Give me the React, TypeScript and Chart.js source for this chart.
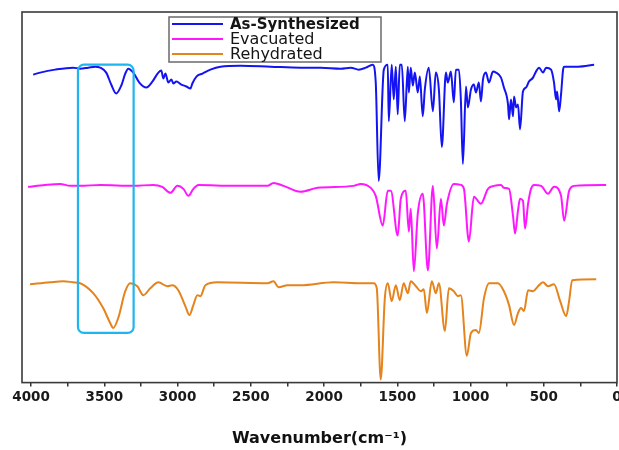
import React, { useEffect, useRef } from 'react';
import { Chart, registerables } from 'chart.js';

Chart.register(...registerables);

const seriesNames = ['As-Synthesized', 'Evacuated', 'Rehydrated'];
const seriesColors = ['#1414F2', '#FF18FF', '#E5831C'];

const asSynthesizedWavenumber = [3986, 3938, 3836, 3713, 3665, 3610, 3562, 3528, 3487, 3453, 3419, 3384, 3357, 3337, 3302, 3261, 3213, 3172, 3131, 3111, 3097, 3083, 3063, 3042, 3029, 3008, 2974, 2940, 2912, 2899, 2871, 2830, 2776, 2707, 2570, 2365, 2160, 2023, 1886, 1818, 1763, 1715, 1668, 1647, 1627, 1592, 1565, 1558, 1538, 1524, 1510, 1497, 1483, 1469, 1449, 1428, 1421, 1408, 1394, 1380, 1360, 1346, 1326, 1312, 1285, 1257, 1237, 1216, 1196, 1168, 1155, 1134, 1114, 1100, 1079, 1066, 1052, 1031, 1018, 997, 977, 963, 943, 929, 915, 895, 874, 847, 826, 792, 772, 744, 737, 724, 710, 703, 689, 676, 662, 642, 621, 601, 573, 553, 532, 505, 484, 450, 430, 416, 409, 395, 382, 368, 361, 265, 156];
const asSynthesizedIntensity = [310, 312, 315, 317, 316, 317, 318, 317, 312, 300, 291, 299, 311, 316, 312, 302, 297, 303, 312, 314, 306, 311, 302, 305, 301, 303, 300, 298, 296, 301, 308, 311, 315, 318, 319, 318, 317, 317, 316, 317, 315, 317, 320, 302, 203, 315, 320, 263, 320, 285, 318, 270, 320, 320, 263, 318, 292, 317, 299, 312, 292, 308, 268, 295, 317, 273, 312, 295, 237, 312, 302, 313, 282, 315, 315, 285, 220, 298, 277, 295, 300, 292, 302, 283, 305, 312, 302, 313, 312, 307, 297, 280, 265, 285, 268, 288, 277, 280, 255, 293, 297, 303, 307, 313, 317, 312, 317, 315, 302, 285, 293, 273, 290, 315, 318, 318, 320];

const evacuatedWavenumber = [4021, 3904, 3802, 3733, 3665, 3528, 3302, 3166, 3104, 3049, 3001, 2960, 2926, 2892, 2858, 2618, 2386, 2345, 2276, 2160, 2044, 1798, 1750, 1681, 1647, 1599, 1565, 1544, 1497, 1476, 1442, 1421, 1408, 1387, 1360, 1326, 1291, 1257, 1230, 1202, 1182, 1161, 1114, 1066, 1045, 1011, 977, 929, 881, 840, 792, 772, 737, 710, 696, 676, 662, 642, 628, 607, 587, 566, 518, 471, 430, 382, 361, 327, 293, 74];
const evacuatedIntensity = [197, 199, 200, 198, 198, 199, 198, 199, 197, 191, 198, 195, 188, 195, 199, 198, 198, 201, 198, 192, 196, 198, 200, 196, 188, 158, 193, 193, 148, 185, 193, 152, 175, 112, 170, 190, 113, 198, 135, 185, 158, 180, 200, 199, 195, 142, 187, 180, 195, 198, 199, 196, 195, 168, 150, 173, 185, 183, 155, 180, 195, 199, 198, 190, 197, 188, 163, 193, 198, 199];

const rehydratedWavenumber = [4007, 3870, 3781, 3713, 3665, 3576, 3508, 3460, 3439, 3405, 3357, 3323, 3275, 3234, 3186, 3131, 3070, 3036, 2995, 2947, 2919, 2892, 2865, 2844, 2810, 2728, 2386, 2345, 2311, 2249, 2160, 1934, 1750, 1661, 1640, 1613, 1585, 1565, 1538, 1510, 1483, 1456, 1428, 1408, 1373, 1339, 1319, 1298, 1264, 1237, 1216, 1175, 1148, 1114, 1086, 1066, 1025, 997, 963, 943, 908, 874, 813, 772, 737, 703, 676, 655, 635, 607, 573, 539, 505, 471, 430, 388, 347, 327, 306, 142];
const rehydratedIntensity = [99, 101, 102, 101, 100, 90, 75, 60, 55, 65, 92, 100, 97, 88, 95, 101, 97, 98, 93, 77, 68, 78, 88, 87, 98, 101, 100, 102, 96, 98, 98, 101, 100, 100, 95, 3, 85, 100, 82, 98, 83, 100, 90, 102, 97, 92, 94, 70, 102, 90, 100, 52, 95, 92, 87, 88, 27, 50, 53, 50, 85, 100, 100, 92, 78, 58, 70, 75, 72, 93, 92, 97, 101, 97, 99, 82, 67, 82, 103, 104];

const xTickValues = [4000, 3500, 3000, 2500, 2000, 1500, 1000, 500, 0];
const xMinorTickValues = [3750, 3250, 2750, 2250, 1750, 1250, 750, 250];
const xRange = [0, 4062];
const yRange = [0, 373];
const xAxisTitle = 'Wavenumber(cm\u207B\u00B9)';
const highlightWavenumberRange = [3680, 3300];
const highlightIntensityRange = [50, 320];

const seriesWavenumbers = [asSynthesizedWavenumber, evacuatedWavenumber, rehydratedWavenumber];
const seriesIntensities = [asSynthesizedIntensity, evacuatedIntensity, rehydratedIntensity];

const FONT = "'DejaVu Sans', Verdana, sans-serif";

const overlayPlugin = {
  id: 'overlay',
  afterDatasetsDraw(chart: any) {
    const { ctx, chartArea, scales } = chart;
    const { left, right, top, bottom } = chartArea;
    const xs = scales.x;
    const ys = scales.y;
    ctx.save();

    // highlight box
    const hx1 = xs.getPixelForValue(highlightWavenumberRange[0]);
    const hx2 = xs.getPixelForValue(highlightWavenumberRange[1]);
    const hy1 = ys.getPixelForValue(highlightIntensityRange[1]);
    const hy2 = ys.getPixelForValue(highlightIntensityRange[0]);
    const r = 6;
    ctx.strokeStyle = '#1DB6EE';
    ctx.lineWidth = 2.2;
    ctx.beginPath();
    ctx.moveTo(hx1 + r, hy1);
    ctx.lineTo(hx2 - r, hy1);
    ctx.arcTo(hx2, hy1, hx2, hy1 + r, r);
    ctx.lineTo(hx2, hy2 - r);
    ctx.arcTo(hx2, hy2, hx2 - r, hy2, r);
    ctx.lineTo(hx1 + r, hy2);
    ctx.arcTo(hx1, hy2, hx1, hy2 - r, r);
    ctx.lineTo(hx1, hy1 + r);
    ctx.arcTo(hx1, hy1, hx1 + r, hy1, r);
    ctx.closePath();
    ctx.stroke();

    // frame
    ctx.strokeStyle = '#3a3a3a';
    ctx.lineWidth = 1.6;
    ctx.strokeRect(left, top, right - left, bottom - top);

    // legend
    const lx = left + 147;
    const ly = top + 5;
    const lw = 212;
    const lh = 45;
    ctx.fillStyle = '#ffffff';
    ctx.fillRect(lx, ly, lw, lh);
    ctx.strokeStyle = '#6a6a6a';
    ctx.lineWidth = 1.5;
    ctx.strokeRect(lx, ly, lw, lh);
    seriesNames.forEach((name, i) => {
      const cy = ly + 7 + i * 15;
      ctx.strokeStyle = seriesColors[i];
      ctx.lineWidth = 2;
      ctx.beginPath();
      ctx.moveTo(lx + 3, cy);
      ctx.lineTo(lx + 54, cy);
      ctx.stroke();
      ctx.fillStyle = '#151515';
      ctx.textBaseline = 'middle';
      ctx.textAlign = 'left';
      ctx.font = i === 0 ? `bold 15px ${FONT}` : `16px ${FONT}`;
      ctx.fillText(name, lx + 61, cy + 1);
    });

    ctx.restore();
  },
};

export default function App() {
  const canvasRef = useRef<HTMLCanvasElement | null>(null);

  useEffect(() => {
    if (!canvasRef.current) return;
    const datasets = seriesNames.map((name, i) => ({
      label: name,
      data: seriesWavenumbers[i].map((w, j) => ({ x: w, y: seriesIntensities[i][j] })),
      borderColor: seriesColors[i],
      backgroundColor: seriesColors[i],
      borderWidth: 2,
      pointRadius: 0,
      fill: false,
      cubicInterpolationMode: 'monotone' as const,
    }));

    const allTicks = [...xTickValues, ...xMinorTickValues].sort((a, b) => a - b);

    const chart = new Chart(canvasRef.current, {
      type: 'line',
      data: { datasets },
      plugins: [overlayPlugin],
      options: {
        animation: false,
        responsive: true,
        maintainAspectRatio: false,
        layout: { padding: { left: 22, right: 2, top: 12, bottom: 0 } },
        plugins: {
          legend: { display: false },
          tooltip: { enabled: false },
        },
        scales: {
          x: {
            type: 'linear',
            reverse: true,
            min: xRange[0],
            max: xRange[1],
            border: { display: false },
            grid: {
              drawOnChartArea: false,
              drawTicks: true,
              tickLength: 4,
              color: '#333',
              lineWidth: 1.5,
            },
            afterBuildTicks: (s: any) => {
              s.ticks = allTicks.map((v) => ({ value: v }));
            },
            afterFit: (s: any) => {
              s.paddingLeft = 0;
              s.paddingRight = 0;
            },
            ticks: {
              autoSkip: false,
              maxRotation: 0,
              minRotation: 0,
              padding: 3,
              color: '#1a1a1a',
              font: { family: FONT, size: 13.5, weight: 'bold' },
              callback: (v: any) => (xTickValues.includes(Number(v)) ? String(v) : ''),
            },
            title: {
              display: true,
              text: xAxisTitle,
              color: '#111',
              font: { family: FONT, size: 16, weight: 'bold' },
              padding: { top: 20, bottom: 2 },
            },
          },
          y: {
            display: false,
            min: yRange[0],
            max: yRange[1],
          },
        },
      } as any,
    });
    return () => chart.destroy();
  }, []);

  return (
    <div style={{ position: 'absolute', left: 0, top: 0, width: 619, height: 450, background: '#fff' }}>
      <canvas ref={canvasRef} />
    </div>
  );
}
